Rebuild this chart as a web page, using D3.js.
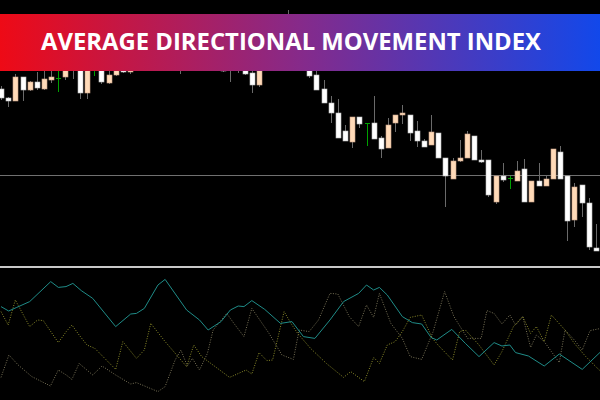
<!doctype html>
<html>
<head>
  <script src="https://d3js.org/d3.v7.min.js"></script>
  <style>body{margin:0;background:#000}</style>
</head>
<body>
<script>
  // candle data (price units), type: W = bearish white, P = bullish peach, G = doji
  var opens  = [211,202,199,223,210,218,211,220,222,223,240,240,207,232,242,217,225,234,228,240,248,238,250,256,244,236,244,252,242,250,240,246,240,230,238,227,215,240,234,250,262,248,244,232,225,211,197,187,169,158,183,177,177,162,152,177,185,185,169,159,155,167,142,121,139,142,164,140,140,98,124,122,119,131,98,119,114,121,148,124,80,115,97,52];
  var highs  = [214,203,226,223,219,228,229,229,229,238,244,245,242,240,246,232,238,240,246,252,254,256,262,260,248,248,258,256,254,252,250,250,244,242,242,230,244,248,256,266,290,252,248,236,229,220,204,201,175,183,183,177,204,164,182,185,195,185,179,161,185,167,142,142,160,169,164,150,140,124,137,124,139,141,119,137,124,151,154,124,117,115,102,76];
  var lows   = [200,193,199,199,209,210,210,217,208,220,221,201,201,224,216,216,224,227,226,236,234,236,247,240,232,226,240,238,240,236,236,228,218,227,225,207,213,230,232,246,244,232,230,222,210,197,177,162,159,152,172,154,161,142,152,168,176,159,153,153,155,142,93,121,138,142,140,137,103,96,118,111,119,98,98,114,114,121,121,59,73,83,50,49];
  var closes = [202,199,223,210,218,212,221,223,222,234,234,207,238,232,218,225,234,228,240,248,238,250,256,244,236,244,252,242,250,240,246,229,230,238,226,215,240,234,250,258,248,236,232,224,210,197,187,162,159,183,176,177,161,151,175,185,187,167,159,153,168,142,124,139,142,166,140,138,105,124,120,122,129,98,119,114,121,151,121,79,113,97,53,49];

  // ADX indicator lines: bar index + value
  var adxIdx = [0,1.07,2.13,4,6.94,8,9.07,10.03,11.2,12.8,16,18.1,18.9,20,21.9,22.9,25.9,27.7,28.9,30.7,32,33.1,33.9,35,36.8,39,40.6,42.2,43.8,45.9,47.8,49.9,51,52,52.8,53.9,56,57.4,58.7,60,60.8,62.9,64.8,66.7,68.8,69.9,71,71.8,73.6,75.8,77.9,81.1,83.7];
  var adxVal = [46.7,44.5,46.2,49.2,59.2,56.3,56.7,58.3,54.7,50.8,36.7,43,43.3,45.8,57.5,60.3,45,40,35,39.2,45,47,46.7,49.7,45.3,38.3,39.2,31.7,30.8,40,49.2,53.3,57.5,55,56.3,52.5,41.7,38.7,38,31.3,30,35.3,28.3,21.7,28.7,27,27.5,23.7,22,17,23,15.3,24.2];
  var plusIdx = [0,1,2,4,5.1,5.9,8,9.1,9.9,10.9,12,13.1,16,17,18.9,20,20.9,22.9,24.8,25.9,26.9,28,31.9,34.2,35,36,37.1,37.9,39.5,40.6,41.4,43.2,45.4,47.8,48.8,50.7,52,52.8,53.9,55,56,57.1,58.7,60.2,61.1,63,64,64.8,66.7,68.8,69.9,71.5,72.8,73.9,74.7,75.8,76.8,78.7,80,81.6,83.7];
  var plusVal = [44.2,37.5,50,36.7,40,39.7,28.7,34.2,37.5,32.5,27.5,25.8,15.3,29.2,20.8,25,38.3,29.2,21.3,16.7,27.5,21.7,11.3,15,13,23.7,19.7,20,44.2,37.5,33.3,25.8,18.3,11.3,14.2,9.2,21.3,18.3,27.5,29.2,34.2,41.3,42.5,30.8,27,20,34.2,35,27.5,17.5,24.2,36.7,41.7,33.3,36.7,29.2,42.5,35,28.3,21.7,14.2];
  var minusIdx = [0,1.1,2.4,4.3,6.9,8,9.1,9.9,10.9,12.8,14.1,16,18.1,18.9,21.9,22.9,24.3,25.1,26,26.7,27.7,28.8,29.6,31.5,32.5,33.9,35,37.4,39.2,40.8,41.6,43,44.3,45.9,47,48.6,49.9,51,52,52.8,54.4,56,57.1,58.7,60.3,61.9,63.2,65.1,67,67.8,68.8,69.9,71,71.8,72.8,73.9,74.7,75.8,76.8,77.9,78.7,80,81.1,82.2,83.7];
  var minusVal = [11.3,22.5,17.5,11.7,7,15,12.5,10.3,18.3,12.5,17,12.5,8,8.7,4.2,6.7,20,25,17,20.8,15,23.3,35,43.3,38.3,31.7,45.8,33.3,22.5,20.3,35,34.2,40,53.3,53,41.7,36.7,47.5,41.3,53.3,38.3,30.8,21.7,20.3,34.2,54.2,41.7,30.8,30.8,44.7,43.3,38,42.5,37.5,41.7,26.3,32.5,29.2,24.2,18.7,35,30,25,34.7,35.8];

  var title = "AVERAGE DIRECTIONAL MOVEMENT INDEX";

  var width = 600, height = 400;
  var svg = d3.select("body").append("svg").attr("width", width).attr("height", height)
    .style("background", "#000");

  var x = d3.scaleLinear().domain([0, 84]).range([1, 603]);
  var y = d3.scaleLinear().domain([0, 300]).range([300, 0]);
  var yi = d3.scaleLinear().domain([0, 70]).range([400, 260]);

  // level line in price panel
  svg.append("line").attr("x1", 0).attr("x2", width).attr("y1", 175.5).attr("y2", 175.5)
    .attr("stroke", "#707070").attr("stroke-width", 1);

  var candles = svg.append("g").selectAll("g").data(opens).enter().append("g");
  candles.append("line")
    .attr("x1", function(d, i) { return Math.round(x(i)) + 0.5; })
    .attr("x2", function(d, i) { return Math.round(x(i)) + 0.5; })
    .attr("y1", function(d, i) { return y(highs[i]); })
    .attr("y2", function(d, i) { return y(lows[i]); })
    .attr("stroke", function(d, i) { return opens[i] == closes[i] ? "#00a000" : "#6a6a6a"; });
  candles.append("rect")
    .attr("x", function(d, i) { return Math.round(x(i)) - 2; })
    .attr("width", 5)
    .attr("y", function(d, i) { return y(Math.max(opens[i], closes[i])); })
    .attr("height", function(d, i) { return Math.max(1, Math.abs(y(opens[i]) - y(closes[i]))); })
    .attr("fill", function(d, i) {
      if (opens[i] == closes[i]) return "#00a000";
      return closes[i] < opens[i] ? "#ffffff" : "#ffdab8";
    })
    .attr("stroke", function(d, i) {
      if (opens[i] == closes[i]) return "none";
      return closes[i] < opens[i] ? "#bbbbbb" : "#c8a088";
    })
    .attr("stroke-width", 0.6);

  // panel separator
  svg.append("line").attr("x1", 0).attr("x2", width).attr("y1", 267).attr("y2", 267)
    .attr("stroke", "#c8c8c8").attr("stroke-width", 2);

  function drawLine(idx, vals, color, dash, w) {
    var line = d3.line().x(function(d, i) { return x(idx[i]); }).y(function(d) { return yi(d); });
    svg.append("path").datum(vals).attr("d", line).attr("fill", "none")
      .attr("stroke", color).attr("stroke-width", w).attr("stroke-dasharray", dash);
  }
  drawLine(minusIdx, minusVal, "#7a7458", "1,1.5", 1);
  drawLine(plusIdx, plusVal, "#8c8c2a", "1,1.5", 1);
  drawLine(adxIdx, adxVal, "#1f8c88", null, 1);

  // banner
  var grad = svg.append("defs").append("linearGradient").attr("id", "bg");
  grad.append("stop").attr("offset", "0%").attr("stop-color", "#ee0a16");
  grad.append("stop").attr("offset", "50%").attr("stop-color", "#862a8a");
  grad.append("stop").attr("offset", "100%").attr("stop-color", "#1248ea");
  svg.append("rect").attr("x", 0).attr("y", 14).attr("width", width).attr("height", 57)
    .attr("fill", "url(#bg)");
  svg.append("text").attr("x", 41).attr("y", 50).text(title)
    .attr("fill", "#fff").attr("font-family", "Open Sans, sans-serif")
    .attr("font-weight", "bold").attr("font-size", 24)
    .attr("textLength", 500).attr("lengthAdjust", "spacingAndGlyphs");
</script>
</body>
</html>
